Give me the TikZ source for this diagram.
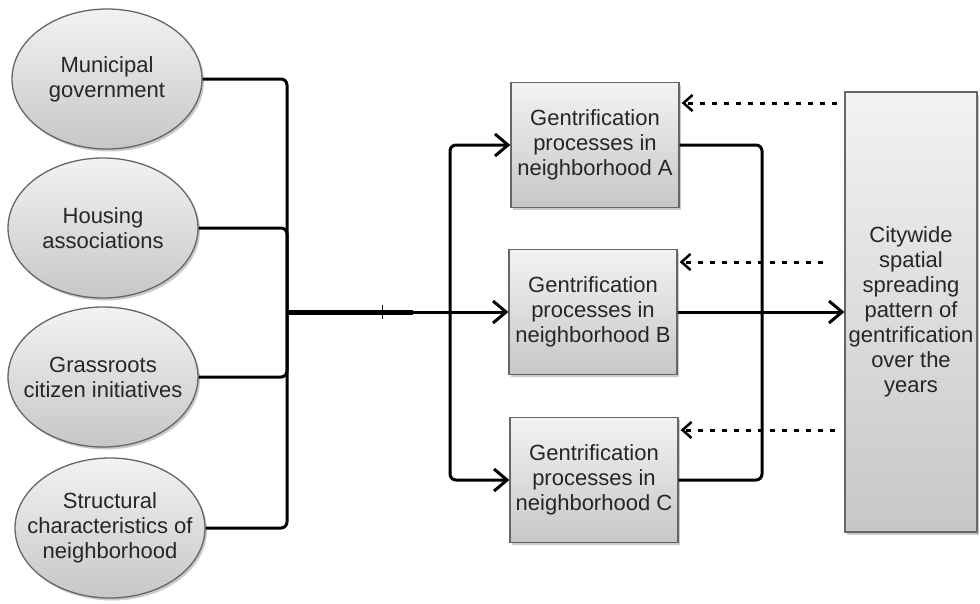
\documentclass[tikz,border=0pt]{standalone}
\usepackage{fontspec}
\setmainfont{Liberation Sans}
\usetikzlibrary{shapes.geometric,arrows.meta,shadows,calc}
\begin{document}
\begin{tikzpicture}[x=1pt,y=-1pt,
  base/.style={draw=black!60, line width=1.3pt, top color=black!5, bottom color=black!22,
    align=center, font=\fontsize{22}{25}\selectfont, text=black!85, inner sep=0pt,
    drop shadow={shadow xshift=2pt, shadow yshift=-2.5pt, opacity=0.35, fill=black!60}},
  oval/.style={base, ellipse, minimum width=190pt, minimum height=140pt},
  ovtext/.style={align=center, font=\fontsize{22}{25}\selectfont, text=black!85, inner sep=0pt},
  boxn/.style={base, rectangle, minimum width=168pt, minimum height=125pt},
  conn/.style={line width=3pt, line join=round, rounded corners=6pt},
  arr/.style={conn, -{Straight Barb[length=13pt,width=22pt,line width=3pt]}},
  darr/.style={line width=3pt, dash pattern=on 5pt off 7pt, -{Straight Barb[length=9pt,width=16pt,line width=2.5pt]}}
]
\useasboundingbox (0,0) rectangle (980,603);
% ovals
\node[oval] (e1) at (107,79) {};
\node[oval] (e2) at (103,228) {};
\node[oval] (e3) at (103,377) {};
\node[oval] (e4) at (110,528) {};
\node[ovtext] (t1) at (e1) {Municipal\\government};
\node[ovtext] (t2) at (e2) {Housing\\associations};
\node[ovtext] (t3) at (e3) {Grassroots\\citizen initiatives};
\node[ovtext] (t4) at (e4) {Structural\\characteristics of\\neighborhood};
% boxes
\node[boxn] (A) at (595,145) {Gentrification\\processes in\\neighborhood A};
\node[boxn] (B) at (593,312) {Gentrification\\processes in\\neighborhood B};
\node[boxn] (C) at (594,480) {Gentrification\\processes in\\neighborhood C};
\node[base, rectangle, minimum width=132pt, minimum height=440pt] (R) at (911,312)
  {Citywide\\spatial\\spreading\\pattern of\\gentrification\\over the\\years};
% junctions
\coordinate (J) at (287,312);
\coordinate (J2) at (450,312);
\coordinate (T) at (413,312);
\coordinate (K) at (762,312);
% left bus
\draw[conn] (e1.east) -| (J);
\draw[conn] (e2.east) -| (J);
\draw[conn] (e3.east) -| (J);
\draw[conn] (e4.east) -| (J);
\draw[line width=5pt] (J) -- (T);
\draw[line width=1.2pt] ($(J)!0.76!(T)+(0,-7)$) -- ($(J)!0.76!(T)+(0,7)$);
\draw[conn] (T) -- (J2);
% to boxes
\draw[arr] (J2) |- (A.west);
\draw[arr] (J2) -- (B.west);
\draw[arr] (J2) |- (C.west);
% right side
\draw[conn] (A.east) -| (K);
\draw[conn] (C.east) -| (K);
\draw[arr] (B.east) -- (R.west);
% dashed feedback
\coordinate (dA) at (837,103);
\coordinate (dB) at (823,262);
\coordinate (dC) at (835,430);
\draw[darr] (dA) -- ($(dA -| A.east)+(2,0)$);
\draw[darr] (dB) -- ($(dB -| B.east)+(2,0)$);
\draw[darr] (dC) -- ($(dC -| C.east)+(2,0)$);
\end{tikzpicture}
\end{document}
